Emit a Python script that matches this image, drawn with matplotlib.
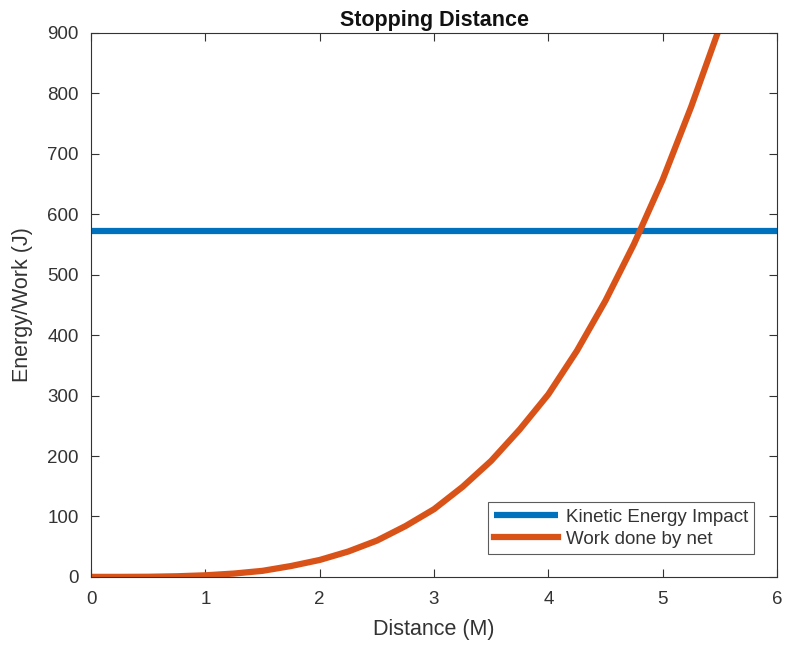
import matplotlib
matplotlib.use("Agg")
import matplotlib.pyplot as plt

# Data
distance = [0, 0.25, 0.5, 0.75, 1.0, 1.25, 1.5, 1.75, 2.0, 2.25, 2.5, 2.75,
            3.0, 3.25, 3.5, 3.75, 4.0, 4.25, 4.5, 4.75, 5.0, 5.25, 5.5]
work = [0, 0, 0.2, 1.0, 2.6, 5.5, 10, 18, 28, 42, 60, 84,
        112, 149, 192, 244, 302, 374, 457, 551, 657, 778, 910]
kinetic_energy = 572
x_range = [0, 6]

blue = "#0072BD"
orange = "#D95319"
tick_col = "#333333"

plt.rcParams['font.family'] = ['Liberation Sans', 'DejaVu Sans']

fig = plt.figure(figsize=(7.92, 6.46), dpi=100)
ax = fig.add_axes([0.115, 0.107, 0.866, 0.842])

ax.plot(x_range, [kinetic_energy, kinetic_energy], color=blue, lw=4.5,
        label="Kinetic Energy Impact", solid_capstyle='butt')
ax.plot(distance, work, color=orange, lw=4.5, label="Work done by net")

ax.set_xlim(0, 6)
ax.set_ylim(0, 900)
ax.set_xticks(range(0, 7))
ax.set_yticks(range(0, 901, 100))
ax.tick_params(direction='in', top=True, right=True, length=6, width=0.8,
               colors=tick_col, labelsize=13.5)
ax.tick_params(axis='x', pad=10)
ax.tick_params(axis='y', pad=9)
for s in ax.spines.values():
    s.set_color(tick_col)
    s.set_linewidth(0.8)

ax.set_title("Stopping Distance", fontsize=15.5, fontweight='bold', color='#111111', pad=5)
ax.set_xlabel("Distance (M)", fontsize=15.5, color=tick_col, labelpad=8)
ax.set_ylabel("Energy/Work (J)", fontsize=15.5, color=tick_col, labelpad=10)

leg = ax.legend(loc='lower right', fontsize=13.5, frameon=True, fancybox=False,
                handlelength=3.4, borderaxespad=1.2, labelspacing=0.25,
                handletextpad=0.4, borderpad=0.35)
leg.get_frame().set_edgecolor(tick_col)
leg.get_frame().set_linewidth(0.8)
for t in leg.get_texts():
    t.set_color(tick_col)

fig.savefig("out.png", dpi=100)
